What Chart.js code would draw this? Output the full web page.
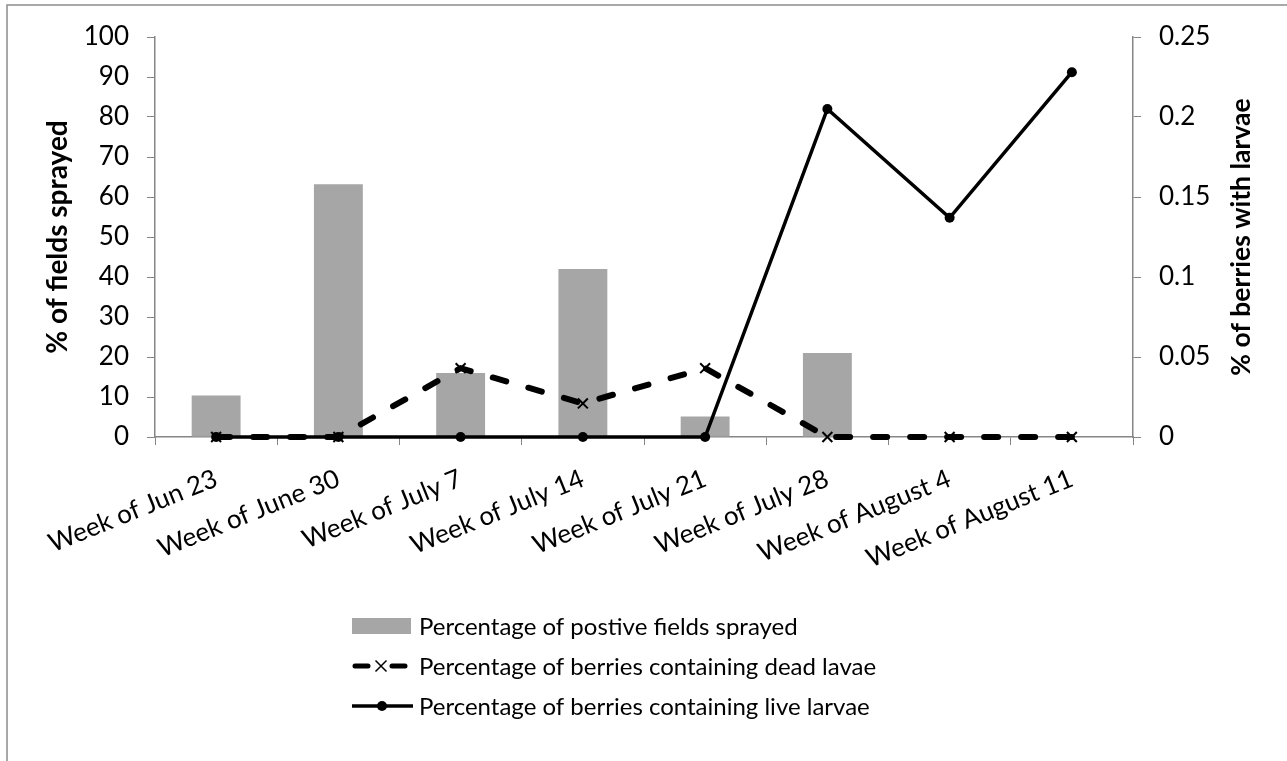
<!DOCTYPE html>
<html>
<head>
<meta charset="utf-8">
<script src="https://cdn.jsdelivr.net/npm/chart.js@4/dist/chart.umd.min.js"></script>
<style>
  html, body { margin: 0; padding: 0; background: #fff; }
  #wrap { width: 1287px; height: 761px; position: relative; }
</style>
</head>
<body>
<div id="wrap"><canvas id="chart" width="1287" height="761"></canvas></div>
<script>
// Datos
const weeks = ['Week of Jun 23', 'Week of June 30', 'Week of July 7', 'Week of July 14',
  'Week of July 21', 'Week of July 28', 'Week of August 4', 'Week of August 11'];
const sprayedFields = [10.4, 63.2, 16, 42, 5.1, 21, 0, 0];
const deadLarvae = [0, 0, 0.043, 0.021, 0.043, 0, 0, 0];
const liveLarvae = [0, 0, 0, 0, 0, 0.205, 0.137, 0.228];
const leftTicks = [0, 100, 10];
const rightTicks = [0, 0.25, 0.05];

const FONT = 'Lato, Carlito, Calibri, sans-serif';
const TICK_SIZE = 26;
const LEGEND_SIZE = 24;
const AXIS_GREY = '#868686';

// Leyenda vertical y título derecho dibujados a mano
const extrasPlugin = {
  id: 'extras',
  afterDraw(chart) {
    const ctx = chart.ctx;
    ctx.save();

    // marco del área
    ctx.strokeStyle = '#8c8c8c';
    ctx.lineWidth = 1.5;
    ctx.beginPath();
    ctx.moveTo(7, 761);
    ctx.lineTo(7, 5);
    ctx.lineTo(1287, 5);
    ctx.stroke();

    // título eje derecho (leído de abajo hacia arriba)
    ctx.font = 'bold 26.5px ' + FONT;
    ctx.fillStyle = '#000';
    ctx.textAlign = 'center';
    ctx.textBaseline = 'middle';
    ctx.translate(1241, (chart.chartArea.top + chart.chartArea.bottom) / 2);
    ctx.rotate(-Math.PI / 2);
    ctx.fillText('% of berries with larvae', 0, 0);
    ctx.setTransform(1, 0, 0, 1, 0, 0);

    // leyenda
    const x0 = 352, x1 = 411, tx = 419;
    const rows = [626, 666, 706];
    ctx.font = LEGEND_SIZE + 'px ' + FONT;
    ctx.textAlign = 'left';
    chart.data.datasets.forEach((ds, i) => {
      const y = rows[i];
      if (ds.type === 'bar') {
        ctx.fillStyle = ds.backgroundColor;
        ctx.fillRect(x0, y - 8, x1 - x0, 16);
      } else if (ds.pointStyle === 'crossRot') {
        ctx.strokeStyle = '#000';
        ctx.lineWidth = 5;
        ctx.lineCap = 'round';
        ctx.beginPath();
        ctx.moveTo(x0 + 3, y); ctx.lineTo(x0 + 16, y);
        ctx.moveTo(x0 + 40, y); ctx.lineTo(x1 - 6, y);
        ctx.stroke();
        ctx.lineWidth = 1.5;
        ctx.lineCap = 'butt';
        const cx = x0 + 29, r = 5.5;
        ctx.beginPath();
        ctx.moveTo(cx - r, y - r); ctx.lineTo(cx + r, y + r);
        ctx.moveTo(cx - r, y + r); ctx.lineTo(cx + r, y - r);
        ctx.stroke();
      } else {
        ctx.strokeStyle = '#000';
        ctx.lineWidth = 3.5;
        ctx.beginPath();
        ctx.moveTo(x0, y); ctx.lineTo(x1 + 2, y);
        ctx.stroke();
        ctx.fillStyle = '#000';
        ctx.beginPath();
        ctx.arc(x0 + 30, y, 5, 0, Math.PI * 2);
        ctx.fill();
      }
      ctx.fillStyle = '#000';
      ctx.fillText(ds.label, tx, y + 1);
    });
    ctx.restore();
  }
};

new Chart(document.getElementById('chart'), {
  data: {
    labels: weeks,
    datasets: [
      {
        type: 'bar',
        label: 'Percentage of postive fields sprayed',
        data: sprayedFields,
        yAxisID: 'y',
        backgroundColor: '#A6A6A6',
        categoryPercentage: 1,
        barPercentage: 0.4,
        order: 3
      },
      {
        type: 'line',
        label: 'Percentage of berries containing dead lavae',
        data: deadLarvae,
        yAxisID: 'y1',
        clip: false,
        borderColor: '#000',
        borderWidth: 6,
        borderDash: [14, 23],
        borderCapStyle: 'round',
        pointStyle: 'crossRot',
        pointRadius: 7,
        pointBorderWidth: 2,
        pointBorderColor: '#000',
        pointBackgroundColor: '#000',
        tension: 0,
        order: 1
      },
      {
        type: 'line',
        label: 'Percentage of berries containing live larvae',
        data: liveLarvae,
        yAxisID: 'y1',
        clip: false,
        borderColor: '#000',
        borderWidth: 3.5,
        pointStyle: 'circle',
        pointRadius: 5,
        pointBorderWidth: 0,
        pointBackgroundColor: '#000',
        tension: 0,
        order: 2
      }
    ]
  },
  options: {
    responsive: false,
    animation: false,
    layout: { padding: { top: 37, left: 0, right: 0, bottom: 0 } },
    plugins: { legend: { display: false }, tooltip: { enabled: false } },
    scales: {
      x: {
        offset: true,
        afterFit: s => { s.height = 761 - 37 - 400; },
        grid: { display: true, drawOnChartArea: false, drawTicks: true, tickLength: 8, color: AXIS_GREY, offset: true },
        border: { display: true, color: AXIS_GREY, width: 1.5 },
        ticks: { color: '#000', font: { family: FONT, size: TICK_SIZE }, minRotation: 22, maxRotation: 22, padding: 18, autoSkip: false }
      },
      y: {
        position: 'left',
        min: leftTicks[0], max: leftTicks[1],
        afterFit: s => { s.width = 155; },
        grid: { display: true, drawOnChartArea: false, drawTicks: true, tickLength: 8, color: AXIS_GREY },
        border: { display: true, color: AXIS_GREY, width: 1.5 },
        ticks: { stepSize: leftTicks[2], color: '#000', font: { family: FONT, size: TICK_SIZE }, padding: 18 },
        title: { display: true, text: '% of fields sprayed', color: '#000', font: { family: FONT, size: 28, weight: 'bold' }, padding: { top: 41 } }
      },
      y1: {
        position: 'right',
        min: rightTicks[0], max: rightTicks[1],
        afterFit: s => { s.width = 1287 - 1133; },
        grid: { display: true, drawOnChartArea: false, drawTicks: true, tickLength: 8, color: AXIS_GREY },
        border: { display: true, color: AXIS_GREY, width: 1.5 },
        ticks: { stepSize: rightTicks[2], color: '#000', font: { family: FONT, size: TICK_SIZE }, padding: 18,
          callback: v => String(+v.toFixed(2)) }
      }
    }
  },
  plugins: [extrasPlugin]
});
</script>
</body>
</html>
